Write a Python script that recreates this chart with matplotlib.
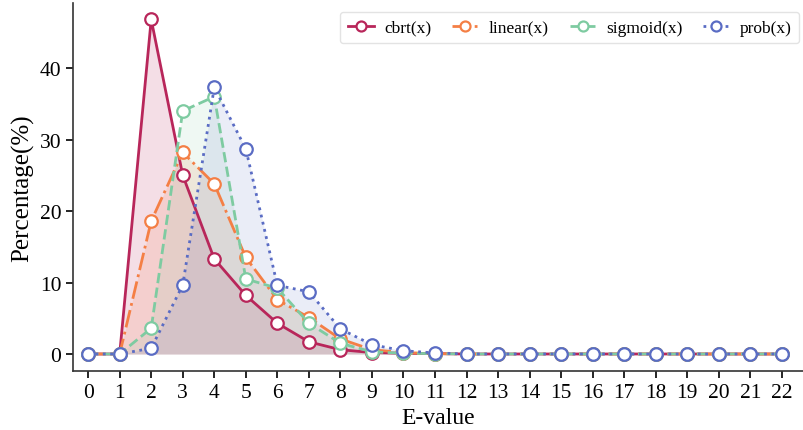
import matplotlib
matplotlib.use("Agg")
import matplotlib.pyplot as plt
import numpy as np

plt.rcParams['font.family'] = ['Liberation Serif', 'DejaVu Serif']

e_values = list(range(23))
cbrt = [0, 0, 46.8, 25.0, 13.3, 8.2, 4.3, 1.7, 0.6, 0.2, 0.1, 0.05, 0, 0, 0, 0, 0, 0, 0, 0, 0, 0, 0]
linear = [0, 0, 18.6, 28.2, 23.8, 13.5, 7.6, 5.1, 2.1, 0.6, 0.2, 0.05, 0, 0, 0, 0, 0, 0, 0, 0, 0, 0, 0]
sigmoid = [0, 0, 3.6, 34.0, 36.0, 10.5, 9.2, 4.3, 1.5, 0.3, 0.1, 0.05, 0, 0, 0, 0, 0, 0, 0, 0, 0, 0, 0]
prob = [0, 0, 0.8, 9.65, 37.3, 28.7, 9.6, 8.7, 3.5, 1.3, 0.45, 0.15, 0, 0, 0, 0, 0, 0, 0, 0, 0, 0, 0]

names = ['cbrt(x)', 'linear(x)', 'sigmoid(x)', 'prob(x)']
series = [cbrt, linear, sigmoid, prob]
colors = ['#B8265A', '#F47F45', '#7ECBA1', '#5A6CC4']
styles = ['-', '-.', '--', ':']
fill_alpha = [0.15, 0.15, 0.12, 0.12]

fig = plt.figure(figsize=(8.04, 4.31), dpi=100)
ax = fig.add_axes([73/804, 1-372/431, 1-73/804, (372-4)/431])

for ys, c, ls, n, fa in zip(series, colors, styles, names, fill_alpha):
    ax.fill_between(e_values, ys, 0, color=c, alpha=fa, linewidth=0)
for ys, c, ls, n in zip(series, colors, styles, names):
    ax.plot(e_values, ys, linestyle=ls, color=c, linewidth=2, marker='o',
            markersize=9, markerfacecolor='white', markeredgecolor=c,
            markeredgewidth=1.6, label=n, clip_on=False)

ax.set_xlim(-0.48, 22.7)
ax.set_ylim(-2.38, 49.1)
ax.set_xticks(e_values)
ax.set_yticks([0, 10, 20, 30, 40])
ax.tick_params(axis='both', labelsize=15.5, direction='out', length=5, width=1.2)
for s in ['top', 'right']:
    ax.spines[s].set_visible(False)
for s in ['left', 'bottom']:
    ax.spines[s].set_linewidth(1.2)
    ax.spines[s].set_color('#333333')
ax.set_xlabel('E-value', fontsize=17, labelpad=4)
ax.set_ylabel('Percentage(%)', fontsize=18, labelpad=4)

fig.legend(loc='upper right', bbox_to_anchor=(1.0 + 4/804, 1-4/431), ncol=4,
           fontsize=12.5, frameon=True, fancybox=True, edgecolor='#dddddd',
           handlelength=1.5, columnspacing=1.2, handletextpad=0.6,
           borderpad=0.45, markerscale=0.8)

fig.savefig('out.png', dpi=100)
